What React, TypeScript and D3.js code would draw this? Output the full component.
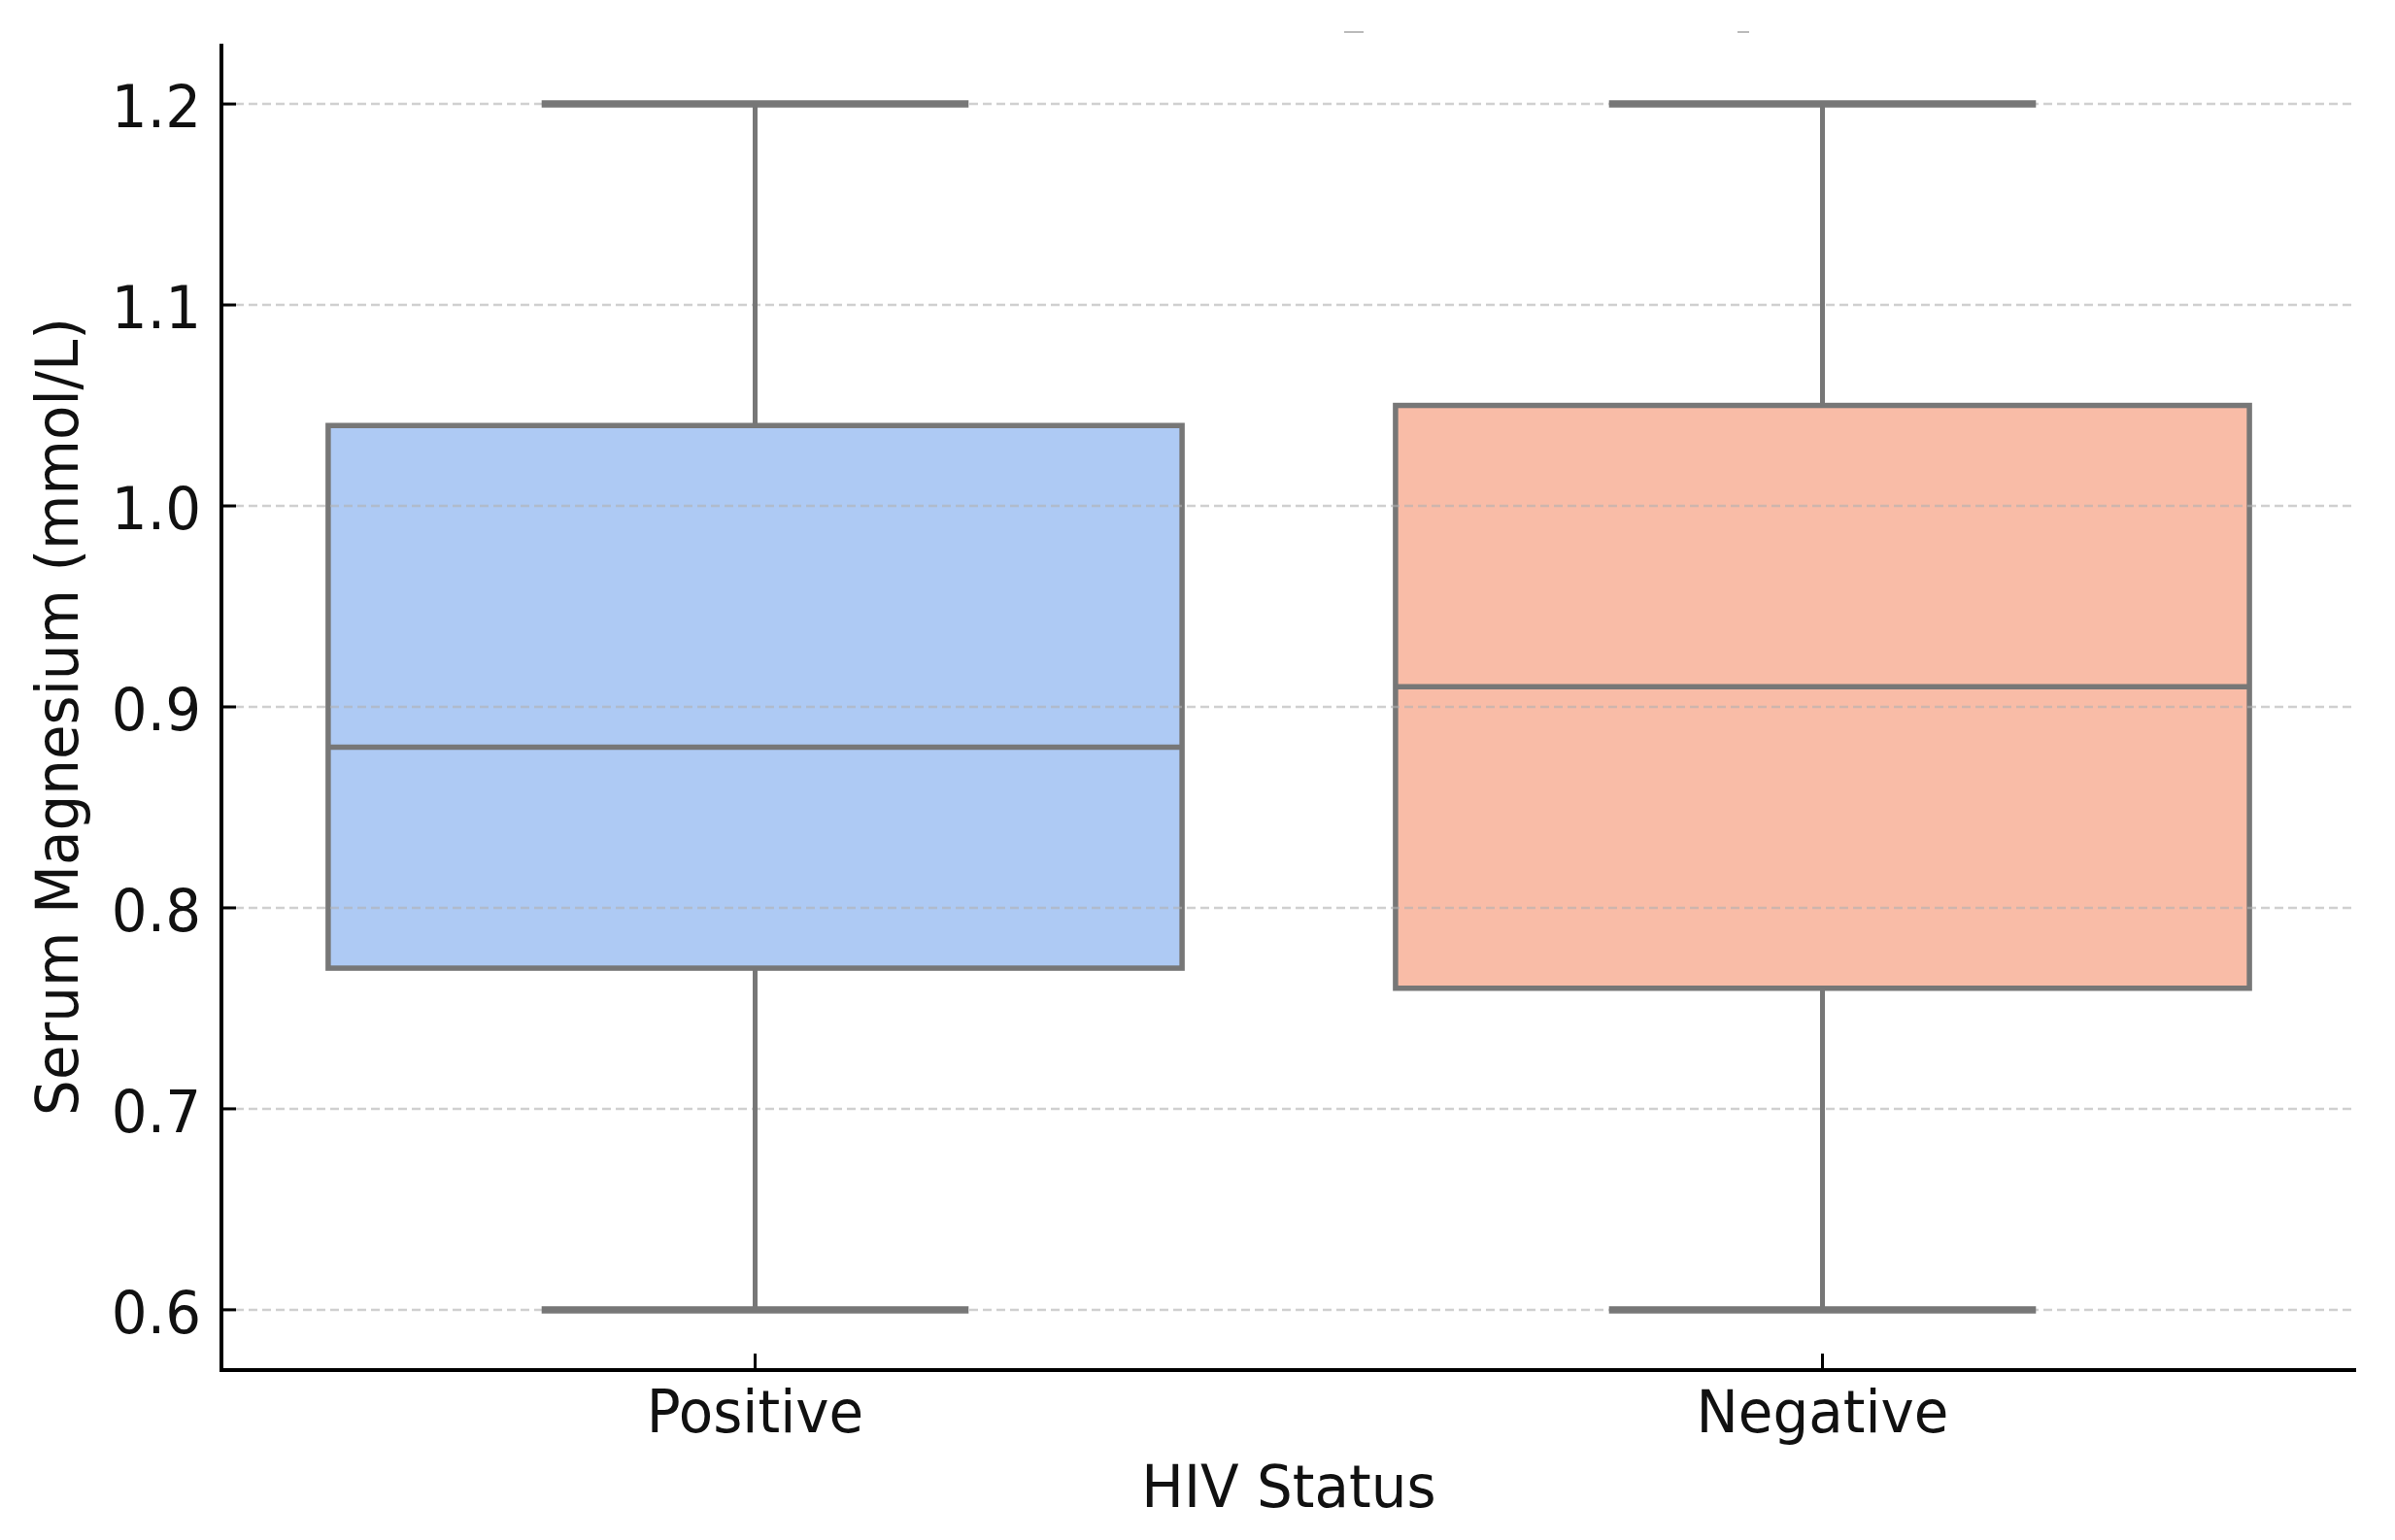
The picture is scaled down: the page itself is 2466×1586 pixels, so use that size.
import React from 'react';
import * as d3 from 'd3';

// values
const categories = ['Positive', 'Negative'];
const whiskerLow = [0.6, 0.6];
const q1 = [0.77, 0.76];
const medians = [0.88, 0.91];
const q3 = [1.04, 1.05];
const whiskerHigh = [1.2, 1.2];
const yTicks = [0.6, 0.7, 0.8, 0.9, 1.0, 1.1, 1.2];
const boxColors = ['#aecaf4', '#f9bca7'];

const W = 2466;
const H = 1586;
const margin = { top: 45, right: 40, bottom: 175, left: 228 };
const FONT = '"DejaVu Sans", sans-serif';
const LINE = '#777777';

const App: React.FC = () => {
  const innerW = W - margin.left - margin.right;
  const x0 = margin.left;
  const x1 = margin.left + innerW;
  const yBottom = H - margin.bottom;

  const xScale = d3.scaleBand<string>()
    .domain(categories)
    .range([x0, x1])
    .paddingInner(0.2)
    .paddingOuter(0.1);

  const yScale = d3.scaleLinear()
    .domain([0.57, 1.23])
    .range([yBottom, margin.top]);

  const step = xScale.step();
  const bw = xScale.bandwidth();
  const capW = step * 0.4;
  const cx = (c: string) => (xScale(c) as number) + bw / 2;

  return (
    <svg
      width={W}
      height={H}
      viewBox={`0 0 ${W} ${H}`}
      style={{ position: 'absolute', left: 0, top: 0, background: '#fff' }}
    >
      <rect x={0} y={0} width={W} height={H} fill="#fff" />

      {/* faint remnants of a cropped title */}
      <line x1={1384} x2={1404} y1={33} y2={33} stroke="#bbb" strokeWidth={2} />
      <line x1={1789} x2={1801} y1={33} y2={33} stroke="#bbb" strokeWidth={2} />

      {/* boxes */}
      {categories.map((c, i) => (
        <rect
          key={`box-${c}`}
          x={xScale(c) as number}
          y={yScale(q3[i])}
          width={bw}
          height={yScale(q1[i]) - yScale(q3[i])}
          fill={boxColors[i]}
          stroke={LINE}
          strokeWidth={5.5}
        />
      ))}

      {/* grid */}
      {yTicks.map(t => (
        <line
          key={`grid-${t}`}
          x1={x0}
          x2={x1}
          y1={yScale(t)}
          y2={yScale(t)}
          stroke="#b0b0b0"
          strokeOpacity={0.6}
          strokeWidth={2.5}
          strokeDasharray="9,5"
        />
      ))}

      {/* whiskers, caps, medians */}
      {categories.map((c, i) => (
        <g key={`lines-${c}`} stroke={LINE}>
          <line x1={cx(c)} x2={cx(c)} y1={yScale(q3[i])} y2={yScale(whiskerHigh[i])} strokeWidth={5} />
          <line x1={cx(c)} x2={cx(c)} y1={yScale(q1[i])} y2={yScale(whiskerLow[i])} strokeWidth={5} />
          <line x1={cx(c) - capW / 2} x2={cx(c) + capW / 2} y1={yScale(whiskerHigh[i])} y2={yScale(whiskerHigh[i])} strokeWidth={7.5} />
          <line x1={cx(c) - capW / 2} x2={cx(c) + capW / 2} y1={yScale(whiskerLow[i])} y2={yScale(whiskerLow[i])} strokeWidth={7.5} />
          <line x1={xScale(c) as number} x2={(xScale(c) as number) + bw} y1={yScale(medians[i])} y2={yScale(medians[i])} strokeWidth={5.5} />
        </g>
      ))}

      {/* spines */}
      <line x1={x0} x2={x0} y1={margin.top} y2={yBottom + 2} stroke="#000" strokeWidth={4} />
      <line x1={x0 - 2} x2={x1} y1={yBottom} y2={yBottom} stroke="#000" strokeWidth={4} />

      {/* y ticks (inward) */}
      {yTicks.map(t => (
        <g key={`yt-${t}`}>
          <line x1={x0} x2={x0 + 15} y1={yScale(t)} y2={yScale(t)} stroke="#000" strokeWidth={3} />
          <text
            transform={`translate(${x0 - 21},${yScale(t) + 24}) scale(0.95,1)`}
            textAnchor="end"
            fontFamily={FONT}
            fontSize={61}
            fill="#111"
          >
            {t.toFixed(1)}
          </text>
        </g>
      ))}

      {/* x ticks (inward) */}
      {categories.map(c => (
        <g key={`xt-${c}`}>
          <line x1={cx(c)} x2={cx(c)} y1={yBottom} y2={yBottom - 17} stroke="#000" strokeWidth={3} />
          <text
            transform={`translate(${cx(c)},${yBottom + 64}) scale(0.95,1)`}
            textAnchor="middle"
            fontFamily={FONT}
            fontSize={61}
            fill="#111"
          >
            {c}
          </text>
        </g>
      ))}

      {/* axis titles */}
      <text
        transform={`translate(${(x0 + x1) / 2},1552) scale(0.95,1)`}
        textAnchor="middle"
        fontFamily={FONT}
        fontSize={61}
        fill="#111"
      >
        HIV Status
      </text>
      <text
        transform={`translate(80,${(margin.top + yBottom) / 2 + 10}) rotate(-90) scale(0.95,1)`}
        textAnchor="middle"
        fontFamily={FONT}
        fontSize={61}
        fill="#111"
      >
        Serum Magnesium (mmol/L)
      </text>
    </svg>
  );
};

export default App;
